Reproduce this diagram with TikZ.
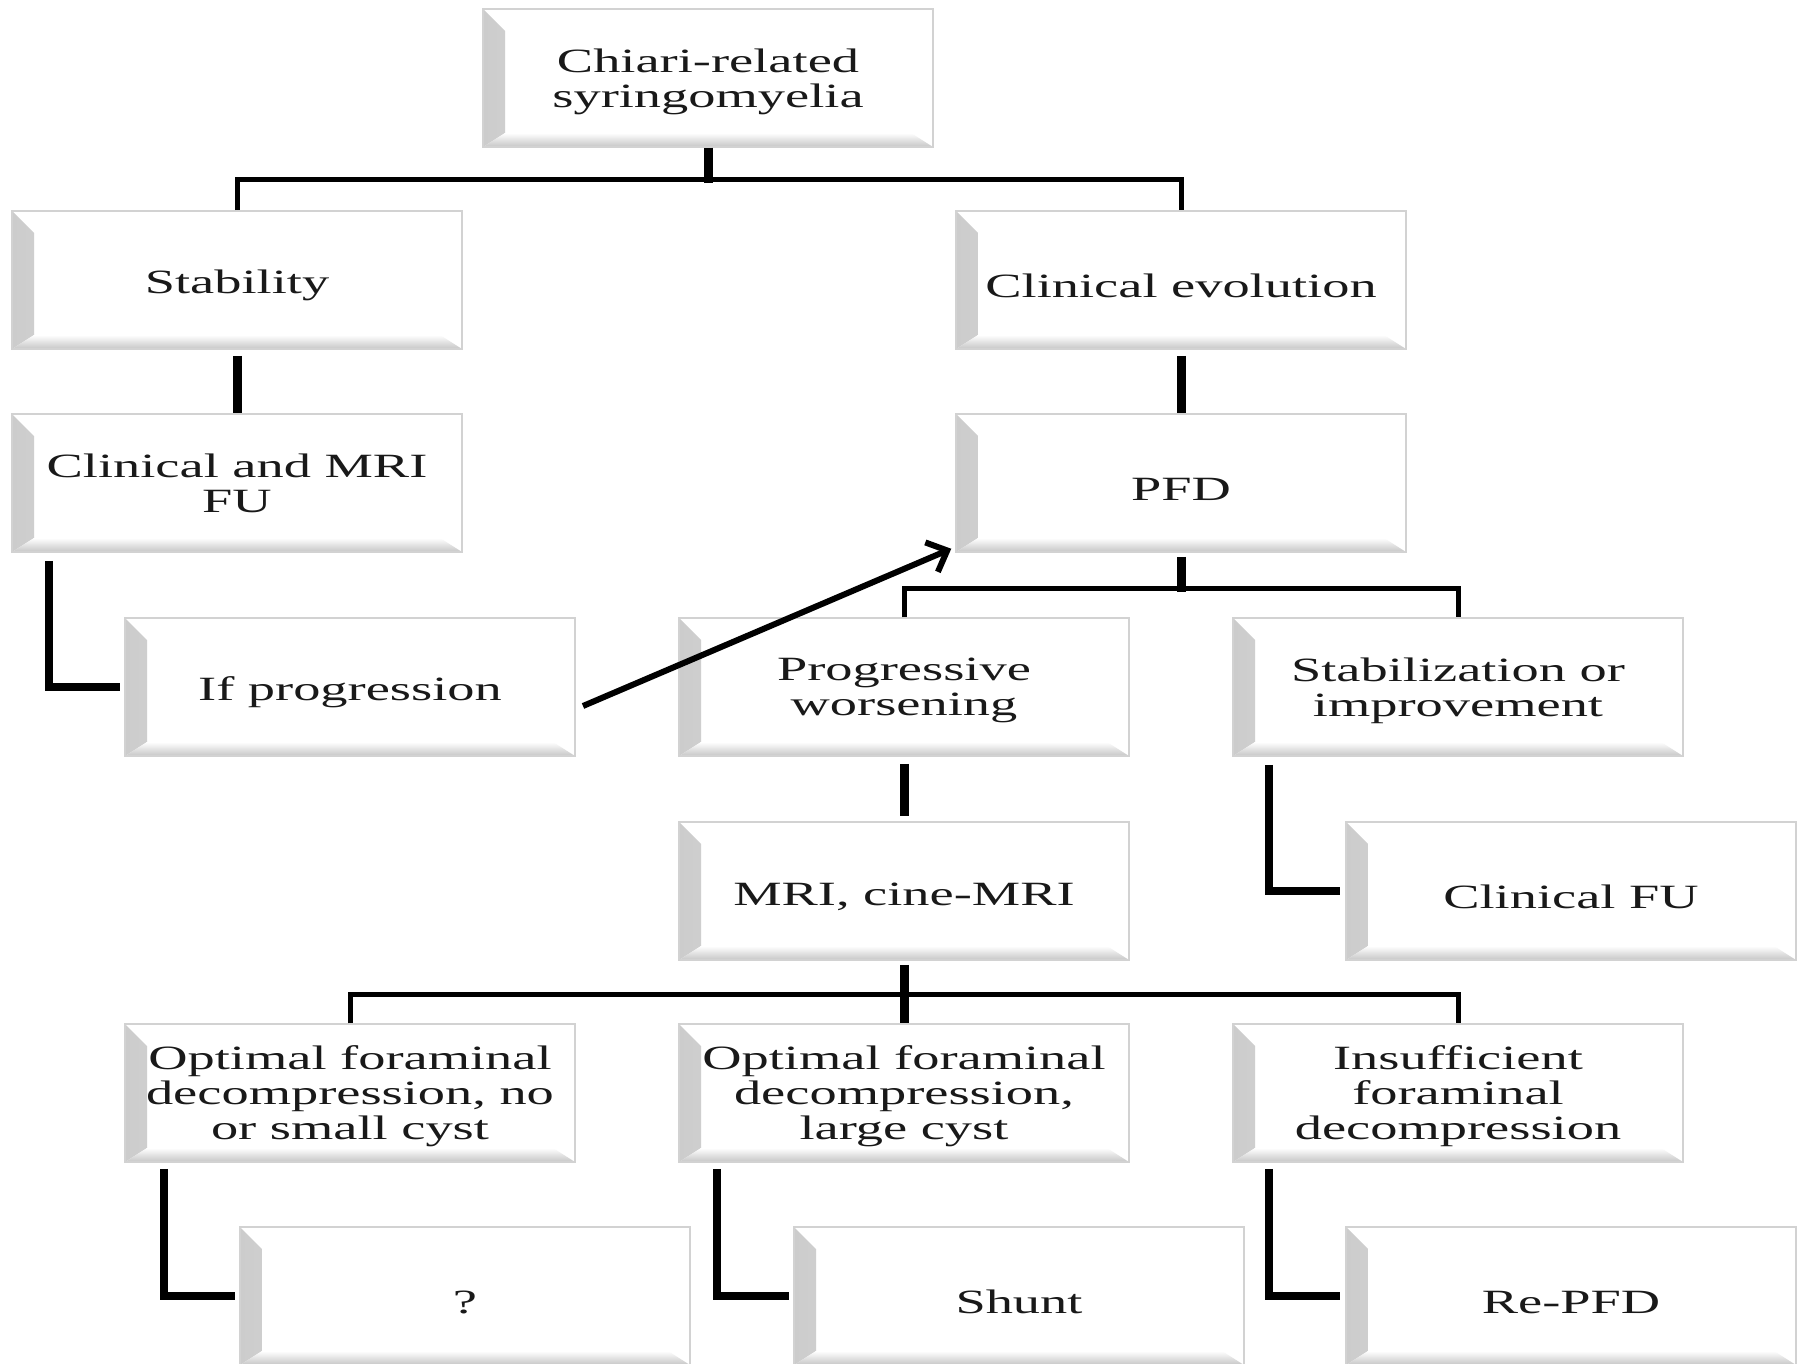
\documentclass[tikz,border=0pt]{standalone}
\usepackage{fontspec}
\setmainfont{Liberation Serif}[FakeStretch=1.6]
\usetikzlibrary{arrows.meta}
\tikzset{
 bx/.style={draw=gray!35, line width=1.5pt, fill=white, minimum width=450pt, minimum height=138pt,
  inner sep=0pt, align=center, font=\fontsize{34}{35}\selectfont, text=black!90,
  execute at begin node={\rule{0pt}{35pt}},
  path picture={
   \shade[left color=gray!40, right color=white]
     (path picture bounding box.north west) -- ++(22pt,-22pt)
     -- ([xshift=22pt,yshift=14pt]path picture bounding box.south west)
     -- (path picture bounding box.south west) -- cycle;
   \shade[top color=white, bottom color=gray!45]
     (path picture bounding box.south west) -- ++(22pt,14pt)
     -- ([xshift=-22pt,yshift=14pt]path picture bounding box.south east)
     -- (path picture bounding box.south east) -- cycle;
  }},
 ml/.style={text depth=-2.5pt},
 stub/.style={line width=9pt},
 hl/.style={line width=5pt},
 ell/.style={line width=8pt},
 arr/.style={line width=6pt, -{Straight Barb[length=17pt,width=32pt]}}
}
\begin{document}
\begin{tikzpicture}[x=1pt,y=-1pt]
\useasboundingbox (0,0) rectangle (1810,1364);
\clip (0,0) rectangle (1810,1364);
\fill[white] (0,0) rectangle (1810,1364);
\node[bx,ml] (top) at (708,78) {Chiari-related\\syringomyelia};
\node[bx] (stab) at (237,280) {Stability};
\node[bx] (cev) at (1181,280) {Clinical evolution};
\node[bx,text depth=-4pt] (cmri) at (237,483) {Clinical and MRI\\FU};
\node[bx] (pfd) at (1181,483) {PFD};
\node[bx] (ifp) at (350,687) {If progression};
\node[bx,ml] (prog) at (904,687) {Progressive\\worsening};
\node[bx,ml] (simp) at (1458,687) {Stabilization or\\improvement};
\node[bx] (mri) at (904,891) {MRI, cine-MRI};
\node[bx] (cfu) at (1571,891) {Clinical FU};
\node[bx,ml] (b1) at (350,1093) {Optimal foraminal\\decompression, no\\or small cyst};
\node[bx,ml] (b2) at (904,1093) {Optimal foraminal\\decompression,\\large cyst};
\node[bx,ml] (b3) at (1458,1093) {Insufficient\\foraminal\\decompression};
\node[bx] (q) at (465,1296) {?};
\node[bx] (shunt) at (1019,1296) {Shunt};
\node[bx] (repfd) at (1571,1296) {Re-PFD};
% connectors
\draw[stub] (top.south) -- ++(0,35);
\draw[hl] (stab.north) -- ++(0,-31) -| (cev.north);
\draw[stub] ([yshift=-6pt]stab.south) -- (cmri.north);
\draw[stub] ([yshift=-6pt]cev.south) -- (pfd.north);
\draw[ell] ([xshift=38pt,yshift=-8pt]cmri.south west) |- ([xshift=-4pt]ifp.west);
\coordinate (a0) at (583,706);
\draw[arr] (a0) -- ([xshift=-4pt,yshift=4pt]pfd.south west);
\draw[stub] ([yshift=-4pt]pfd.south) -- ++(0,35);
\draw[hl] (prog.north) -- ++(0,-29) -| (simp.north);
\draw[stub] ([yshift=-7pt]prog.south) -- ([yshift=5pt]mri.north);
\draw[ell] ([xshift=37pt,yshift=-8pt]simp.south west) |- ([xshift=-5pt]cfu.west);
\draw[stub] ([yshift=-4pt]mri.south) -- (b2.north);
\draw[hl] (b1.north) -- ++(0,-29) -| (b3.north);
\draw[ell] ([xshift=40pt,yshift=-6pt]b1.south west) |- ([xshift=-4pt]q.west);
\draw[ell] ([xshift=39pt,yshift=-6pt]b2.south west) |- ([xshift=-4pt]shunt.west);
\draw[ell] ([xshift=37pt,yshift=-6pt]b3.south west) |- ([xshift=-5pt]repfd.west);
\end{tikzpicture}
\end{document}
